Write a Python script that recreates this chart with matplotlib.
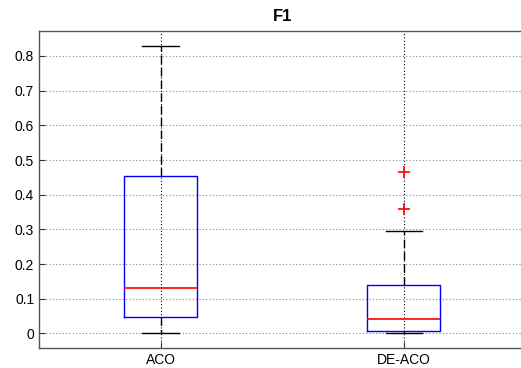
import matplotlib
matplotlib.use("Agg")
import matplotlib.pyplot as plt

# Box plot summary
labels = ["ACO", "DE-ACO"]
q1 = [0.047, 0.008]
medians = [0.131, 0.041]
q3 = [0.455, 0.141]
whisker_low = [0.0, 0.0]
whisker_high = [0.830, 0.296]
fliers = [[], [0.358, 0.465]]

plt.rcParams["font.family"] = ["Liberation Sans", "DejaVu Sans"]

fig = plt.figure(figsize=(5.21, 3.68), dpi=100)
ax = fig.add_axes([0.0749, 0.0543, 0.9336, 0.8614])

stats = []
for i, lab in enumerate(labels):
    stats.append(
        {
            "label": lab,
            "q1": q1[i],
            "med": medians[i],
            "q3": q3[i],
            "whislo": whisker_low[i],
            "whishi": whisker_high[i],
            "fliers": fliers[i],
        }
    )

ax.bxp(
    stats,
    positions=[1, 2],
    widths=0.3,
    showfliers=True,
    boxprops=dict(color="#0000ff", linewidth=1.0),
    medianprops=dict(color="#ff0000", linewidth=1.2),
    whiskerprops=dict(color="black", linestyle=(0, (6, 3)), linewidth=1.0),
    capprops=dict(color="black", linewidth=1.0),
    capwidths=0.15,
    flierprops=dict(marker="+", markeredgecolor="#ff0000", markersize=8,
                    markeredgewidth=1.2, linestyle="none"),
    zorder=3,
)

ax.set_xlim(0.5, 2.5)
ax.set_ylim(-0.042, 0.872)
ax.set_yticks([0, 0.1, 0.2, 0.3, 0.4, 0.5, 0.6, 0.7, 0.8])
ax.set_yticklabels(["0", "0.1", "0.2", "0.3", "0.4", "0.5", "0.6", "0.7", "0.8"])
ax.set_xticks([1, 2])
ax.set_xticklabels(labels)

ax.yaxis.grid(True, linestyle=(0, (1, 2)), color="#888888", linewidth=0.8)
ax.xaxis.grid(True, linestyle=(0, (1, 2)), color="black", linewidth=0.8)
ax.set_axisbelow(True)

ax.tick_params(direction="in", length=4, labelsize=10, colors="#333333",
               labelcolor="black")
for side in ax.spines.values():
    side.set_color("#555555")
    side.set_linewidth(1.0)
ax.spines["right"].set_visible(False)

ax.set_title("F1", fontsize=12, fontweight="bold", pad=7)

fig.savefig("out.png", dpi=100)
